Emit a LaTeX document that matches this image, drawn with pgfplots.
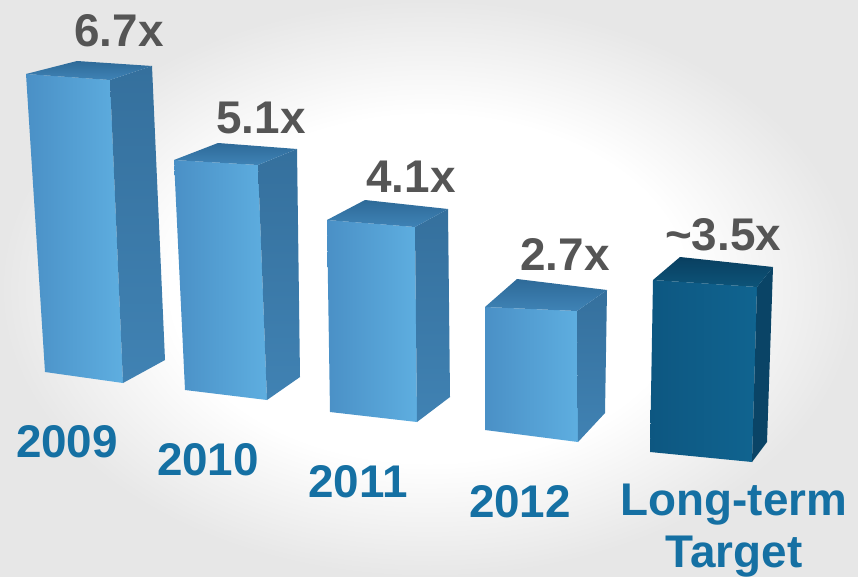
\documentclass[border=0pt]{standalone}
\usepackage{pgfplots}
\pgfplotsset{compat=1.18}
\usepackage{fontspec}
\setmainfont{Liberation Sans}
\definecolor{bgout}{HTML}{E7E7E7}
\definecolor{frL}{HTML}{4A90C6}
\definecolor{frR}{HTML}{5EAEE0}
\definecolor{sdT}{HTML}{35709D}
\definecolor{sdB}{HTML}{4082B3}
\definecolor{tpB}{HTML}{2E6A98}
\definecolor{tpF}{HTML}{3F83B6}
\definecolor{dfrL}{HTML}{0D5781}
\definecolor{dfrR}{HTML}{106490}
\definecolor{dsd}{HTML}{0A4466}
\definecolor{dtpB}{HTML}{093F60}
\definecolor{dtpF}{HTML}{0D5479}
\definecolor{valgray}{HTML}{555555}
\definecolor{yearblue}{HTML}{1570A3}
\pgfdeclareradialshading{bgshade}{\pgfpoint{0bp}{0bp}}{color(0bp)=(white); color(15bp)=(white); color(25bp)=(bgout); color(50bp)=(bgout)}
\begin{document}
\begin{tikzpicture}
\begin{axis}[width=858bp, height=577bp, scale only axis,
  xmin=0, xmax=858, ymin=0, ymax=577, y dir=reverse,
  hide axis, clip=false]
% background
\addplot[draw=none, shading=bgshade] coordinates {(0,0) (858,0) (858,577) (0,577)} -- cycle;
% 2009 (6.7x)
\addplot[draw=none, left color=frL, right color=frR] coordinates {(26,74) (110,80) (123,383) (45,372)} -- cycle;
\addplot[draw=none, top color=sdT, bottom color=sdB] coordinates {(110,80) (152,66) (165,360) (123,383)} -- cycle;
\addplot[draw=none, top color=tpB, bottom color=tpF] coordinates {(26,74) (77,61) (152,66) (110,80)} -- cycle;
% 2010 (5.1x)
\addplot[draw=none, left color=frL, right color=frR] coordinates {(174,160) (258,165) (267,400) (185,390)} -- cycle;
\addplot[draw=none, top color=sdT, bottom color=sdB] coordinates {(258,165) (297,149) (300,377) (267,400)} -- cycle;
\addplot[draw=none, top color=tpB, bottom color=tpF] coordinates {(174,160) (218,143) (297,149) (258,165)} -- cycle;
% 2011 (4.1x)
\addplot[draw=none, left color=frL, right color=frR] coordinates {(327,220) (415,227) (417,422) (330,412)} -- cycle;
\addplot[draw=none, top color=sdT, bottom color=sdB] coordinates {(415,227) (448,209) (450,397) (417,422)} -- cycle;
\addplot[draw=none, top color=tpB, bottom color=tpF] coordinates {(327,220) (365,200) (448,209) (415,227)} -- cycle;
% 2012 (2.7x)
\addplot[draw=none, left color=frL, right color=frR] coordinates {(485,307) (577,311) (578,442) (485,430)} -- cycle;
\addplot[draw=none, top color=sdT, bottom color=sdB] coordinates {(577,311) (607,290) (605,413) (578,442)} -- cycle;
\addplot[draw=none, top color=tpB, bottom color=tpF] coordinates {(485,307) (517,279) (607,290) (577,311)} -- cycle;
% Long-term target (~3.5x)
\addplot[draw=none, left color=dfrL, right color=dfrR] coordinates {(653,280) (757,287) (752,462) (650,452)} -- cycle;
\addplot[draw=none, fill=dsd] coordinates {(757,287) (773,267) (767,442) (752,462)} -- cycle;
\addplot[draw=none, top color=dtpB, bottom color=dtpF] coordinates {(653,280) (680,257) (773,267) (757,287)} -- cycle;
% value labels
\addplot[only marks, mark=none, point meta=explicit symbolic, nodes near coords,
  every node near coord/.append style={anchor=base, inner sep=0pt, text=valgray,
    font=\fontsize{46}{50}\selectfont\bfseries}]
  coordinates {(119,47) [6.7x] (261,133) [5.1x] (411,192) [4.1x] (565,270) [2.7x] (723,250) [\char`\~3.5x]};
% category labels
\addplot[only marks, mark=none, point meta=explicit symbolic, nodes near coords,
  every node near coord/.append style={anchor=base, inner sep=0pt, text=yearblue,
    font=\fontsize{46}{50}\selectfont\bfseries}]
  coordinates {(67,457) [2009] (208,475) [2010] (358,497) [2011] (520,517) [2012] (734,515) [Long-term] (734,567) [Target]};
\end{axis}
\pgfresetboundingbox
\path (current axis.south west) rectangle (current axis.north east);
\end{tikzpicture}
\end{document}
